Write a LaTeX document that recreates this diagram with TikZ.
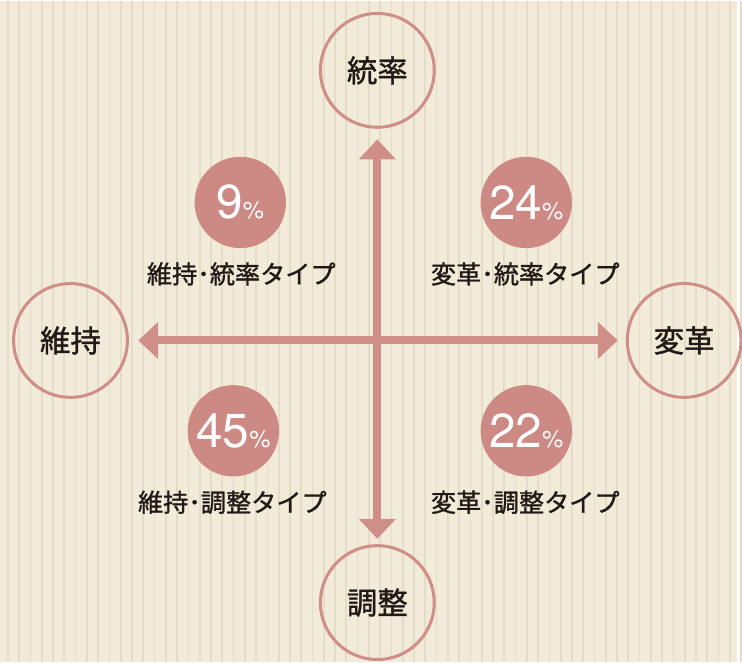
\documentclass[tikz,border=0pt]{standalone}
\usepackage{fontspec}
\usepackage{tikz}
\usetikzlibrary{arrows.meta}

\newfontfamily\jpfont[FakeBold=1.2]{Noto Sans CJK JP}
\newfontfamily\numfont{TeX Gyre Heros}

\definecolor{fondo}{HTML}{F3EBD9}
\definecolor{raya}{HTML}{E4DBC9}
\definecolor{rosa}{HTML}{D08E89}
\definecolor{rosafill}{HTML}{CD8A84}
\definecolor{tinta}{HTML}{231815}

% Porcentaje: numero grande y signo pequeno
\newcommand{\porc}[1]{{\numfont\fontsize{36}{36}\selectfont #1}{\numfont\fontsize{18}{18}\selectfont\%}}

\begin{document}
\begin{tikzpicture}[
    x=0.75pt, y=-0.75pt,  % Coordenadas en pixeles, eje y hacia abajo
    eje/.style={-{Triangle[length=15pt,width=27pt]}, line width=6pt, rosa}, % Flechas de los ejes
    polo/.style={circle, draw=rosa, line width=2.3pt, minimum size=86pt, inner sep=0pt,
        text=tinta, font=\jpfont\fontsize{23}{23}\selectfont}, % Circulos de los extremos
    pct/.style={circle, fill=rosafill, minimum size=69pt, inner sep=0pt, text=white}, % Circulos con porcentaje
    tipo/.style={text=tinta, font=\jpfont\fontsize{19}{19}\selectfont}, % Nombre de cada tipo
]

% --- Fondo rayado ---
\fill[fondo] (0,0) rectangle (742,666);
\foreach \i in {0,...,65}
    \draw[raya, line width=1.3pt] ({8+11.36*\i},0) -- ({8+11.36*\i},666);
\useasboundingbox (0,0) rectangle (742,666);

% --- Extremos de los ejes ---
\node[polo] (tousotsu) at (380,70)  {統率};
\node[polo] (chousei)  at (380,606) {調整};
\node[polo] (iji)      at (71,342)  {維持};
\node[polo] (henkaku)  at (689,342) {変革};

% --- Ejes ---
\coordinate (o) at (380,342);
\draw[eje, shorten >=8pt] (o) -- (tousotsu);
\draw[eje, shorten >=4pt] (o) -- (chousei);
\draw[eje, shorten >=7pt] (o) -- (iji);
\draw[eje, shorten >=6pt] (o) -- (henkaku);

% --- Cuadrantes ---
\node[pct] (p9)  at (242,203) {\porc{9}};
\node[pct] (p24) at (530,203) {\porc{24}};
\node[pct] (p45) at (235,433) {\porc{45}};
\node[pct] (p22) at (530,433) {\porc{22}};

\node[tipo] (t9)  at (243,275) {維持･統率タイプ};
\node[tipo] (t24) at (529,275) {変革･統率タイプ};
\node[tipo] (t45) at (234,505) {維持･調整タイプ};
\node[tipo] (t22) at (529,505) {変革･調整タイプ};

\end{tikzpicture}
\end{document}
